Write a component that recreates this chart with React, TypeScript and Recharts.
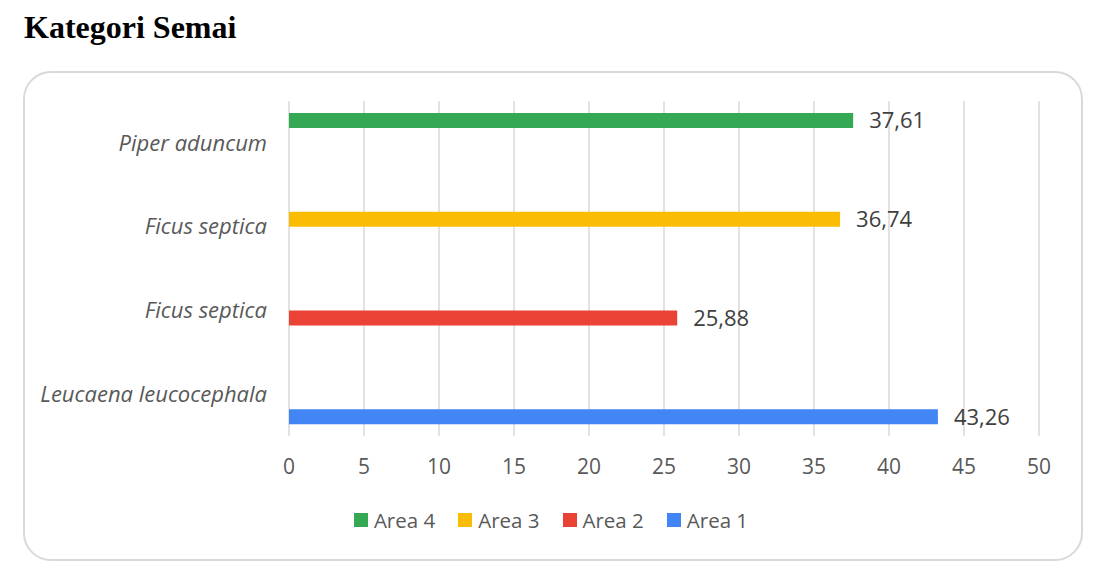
import React from 'react';
import { Bar, BarChart, CartesianGrid, LabelList, Legend, XAxis, YAxis } from 'recharts';

// one species per row, each measured in a single area
const species = ['Piper aduncum', 'Ficus septica', 'Ficus septica', 'Leucaena leucocephala'];
const area4 = [37.61, null, null, null];
const area3 = [null, 36.74, null, null];
const area2 = [null, null, 25.88, null];
const area1 = [null, null, null, 43.26];
const xTicks = [0, 5, 10, 15, 20, 25, 30, 35, 40, 45, 50];

const seriesNames = ['Area 4', 'Area 3', 'Area 2', 'Area 1'];
const seriesColors = ['#34A853', '#FBBC04', '#EA4335', '#4285F4'];

const data = species.map((name, i) => ({
  id: i,
  name,
  'Area 4': area4[i],
  'Area 3': area3[i],
  'Area 2': area2[i],
  'Area 1': area1[i],
}));

const font = '"Open Sans", sans-serif';

const formatValue = (v: any) =>
  v === null || v === undefined ? '' : Number(v).toFixed(2).replace('.', ',');

const renderLegend = () => (
  <div
    style={{
      display: 'flex',
      justifyContent: 'center',
      paddingLeft: 26,
      fontFamily: font,
      fontSize: 20.5,
      color: '#595959',
    }}
  >
    {seriesNames.map((n, i) => (
      <span key={n} style={{ display: 'flex', alignItems: 'center', marginRight: 23 }}>
        <span
          style={{
            display: 'inline-block',
            width: 14,
            height: 14,
            background: seriesColors[i],
            marginRight: 6,
          }}
        />
        {n}
      </span>
    ))}
  </div>
);

const App = () => {
  return (
    <div style={{ position: 'absolute', left: 0, top: 0, width: 1099, height: 573, background: '#fff' }}>
      <div
        style={{
          position: 'absolute',
          left: 24,
          top: 9,
          fontFamily: '"Liberation Serif", "Times New Roman", serif',
          fontWeight: 'bold',
          fontSize: 32,
          color: '#000',
        }}
      >
        Kategori Semai
      </div>
      <div
        style={{
          position: 'absolute',
          left: 23,
          top: 71,
          width: 1056,
          height: 486,
          border: '2px solid #d9d9d9',
          borderRadius: 28,
        }}
      />
      <div style={{ position: 'absolute', left: 0, top: 0 }}>
        <BarChart
          width={1099}
          height={573}
          data={data}
          layout="vertical"
          barSize={15}
          barGap={0}
          margin={{ top: 101, right: 60, left: 39, bottom: 107 }}
        >
          <CartesianGrid horizontal={false} stroke="#d9d9d9" strokeWidth={1.5} />
          <XAxis
            type="number"
            domain={[0, 50]}
            ticks={xTicks}
            axisLine={false}
            tickLine={false}
            tickMargin={17}
            height={30}
            tick={{ fill: '#595959', fontSize: 21, fontFamily: font }}
          />
          <YAxis
            type="category"
            dataKey="id"
            width={250}
            axisLine={false}
            tickLine={false}
            tickMargin={16}
            tickFormatter={(i: number) => species[i]}
            tick={{ fill: '#595959', fontSize: 22, fontFamily: font, fontStyle: 'italic' }}
          />
          <Legend
            verticalAlign="middle"
            align="center"
            content={renderLegend}
            wrapperStyle={{ top: 506, left: 0, width: 1099 }}
          />
          {seriesNames.map((n, i) => (
            <Bar key={n} dataKey={n} fill={seriesColors[i]} isAnimationActive={false}>
              <LabelList
                dataKey={n}
                position="right"
                offset={16}
                formatter={formatValue}
                style={{ fill: '#404040', fontSize: 22, fontFamily: font }}
              />
            </Bar>
          ))}
        </BarChart>
      </div>
    </div>
  );
};

export default App;
